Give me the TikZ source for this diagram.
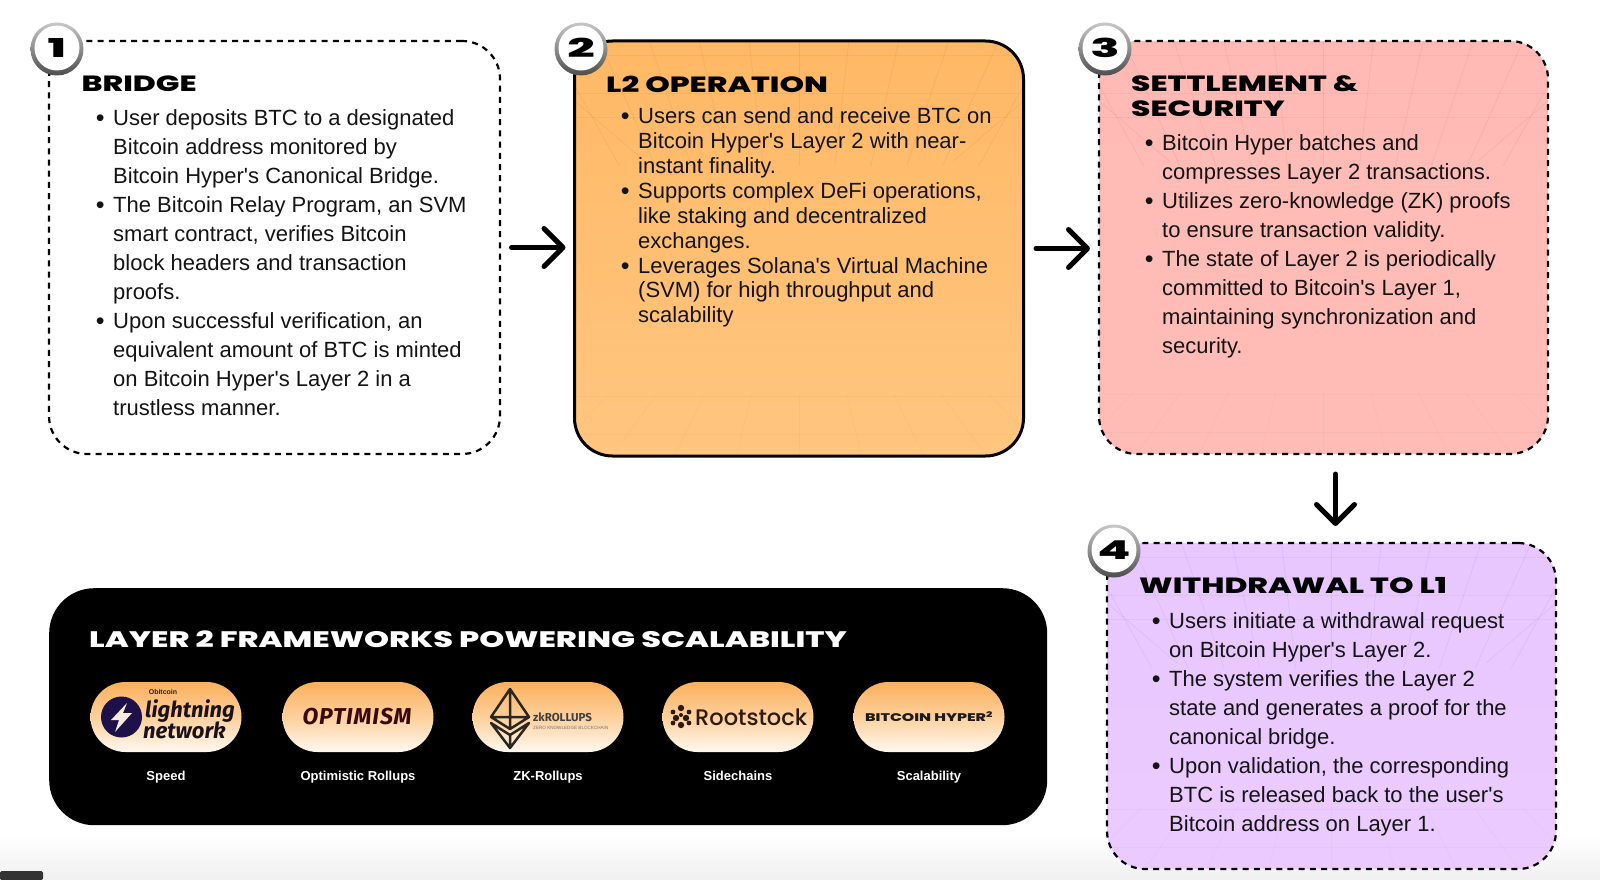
\documentclass[tikz,border=0pt]{standalone}
\usepackage{fontspec}
\usepackage{graphicx}
\usetikzlibrary{arrows.meta,shapes.misc,calc,shadings}
\setmainfont{Liberation Sans}
\newfontfamily\bodyf{Liberation Sans}
\newfontfamily\hdf[FakeStretch=1.42]{Poppins ExtraBold}
\newfontfamily\numf[FakeStretch=1.85]{Poppins ExtraBold}
\newfontfamily\fira{Fira Sans}
\newfontfamily\firasp[LetterSpace=4]{Fira Sans}
\newfontfamily\popf{Poppins Medium}
\definecolor{inkc}{HTML}{141414}
\newcommand\bl{\leavevmode\llap{\raisebox{-1.2pt}{\fontsize{25}{25}\selectfont •}\hspace{8.5pt}}}
\newcommand\gridlines[5]{%
 \begin{scope}
  \clip[rounded corners=38pt] (#1,#2) rectangle (#3,#4);
  \pgfmathsetmacro\cx{(#1+#3)/2}
  \pgfmathsetmacro\wd{(#3-#1)/9}
  \foreach \k in {-5,...,5}{
    \draw[#5] (\cx+\k*\wd,#2) -- (\cx+\k*\wd*0.72,#2+125);
    \draw[#5,opacity=.025] (\cx+\k*\wd*1.25,#4) -- (\cx+\k*\wd*0.95,#4-62);
  }
  \draw[#5] (#1,#2+60) -- (#1+70,#2+120);
  \draw[#5] (#3,#2+60) -- (#3-70,#2+120);
  \foreach \o in {14,52,76}{\draw[#5,opacity=.035] (#1,#2+\o) -- (#3,#2+\o);}
  \foreach \o in {60,22}{\draw[#5,opacity=.025] (#1,#4-\o) -- (#3,#4-\o);}
 \end{scope}}
\tikzset{
  x=1pt,y=-1pt,
  stepbox/.style={rectangle,rounded corners=38pt,inner sep=0pt,outer sep=0pt,line width=2.2pt,draw=black,anchor=north west},
  dashbox/.style={stepbox,dash pattern=on 6pt off 5.2pt},
  gridln/.style={line width=.7pt,draw=black,opacity=.05},
  bodytext/.style={inner sep=0pt,anchor=north west,align=left,text=inkc,font=\bodyf\fontsize{22}{29}\selectfont},
  title/.style={inner sep=0pt,anchor=west,align=left,text=black,font=\hdf\fontsize{22}{24.5}\selectfont},
  flow/.style={line width=5pt,line cap=round,-{Straight Barb[length=19pt,width=38pt,line width=5pt,round]}},
  pill/.style={rounded rectangle,minimum width=151pt,minimum height=70pt,inner sep=0pt,top color=pilltop,bottom color=pillbot,middle color=pillmid},
  plabel/.style={inner sep=0pt,anchor=base,text=white,font=\bfseries\fontsize{13}{13}\selectfont},
  badgeo/.style={circle,minimum size=53pt,inner sep=0pt,top color=black!22,bottom color=black!70,middle color=black!45},
  badgei/.style={circle,minimum size=45pt,inner sep=0pt,fill=white,text=black,font=\numf\fontsize{26}{26}\selectfont}
}
\definecolor{pilltop}{HTML}{FBB05C}
\definecolor{pillmid}{HTML}{FDD09C}
\definecolor{pillbot}{HTML}{FFF8F0}
\definecolor{FFB865}{HTML}{FFB865}
\definecolor{FFC680}{HTML}{FFC680}
\definecolor{FFBAB5}{HTML}{FFBAB5}
\definecolor{FFBCB7}{HTML}{FFBCB7}
\definecolor{E8C6FF}{HTML}{E8C6FF}
\definecolor{EBCBFF}{HTML}{EBCBFF}
\definecolor{1E1048}{HTML}{1E1048}
\definecolor{F6EBDD}{HTML}{F6EBDD}
\definecolor{1A1218}{HTML}{1A1218}
\definecolor{3A0A0A}{HTML}{3A0A0A}
\definecolor{2B2620}{HTML}{2B2620}
\definecolor{2C1A0F}{HTML}{2C1A0F}
\definecolor{1C1C1C}{HTML}{1C1C1C}
\begin{document}
\begin{tikzpicture}
\useasboundingbox (0,0) rectangle (1600,880);
\fill[white] (0,0) rectangle (1600,880);
\shade[top color=white,bottom color=black!6] (0,835) rectangle (1600,880);
\fill[black!80,rounded corners=1.5pt] (0,871) -- (43,871) -- (43,880) -- (0,880) -- cycle;

% box fills and grids
\shade[rounded corners=38pt,top color=FFB865,bottom color=FFC680] (574.5,41) rectangle (1023.5,456);
\gridlines{574.5}{41}{1023.5}{456}{gridln}
\shade[rounded corners=38pt,top color=FFBAB5,bottom color=FFBCB7] (1099,41) rectangle (1548,454);
\gridlines{1099}{41}{1548}{454}{gridln}
\shade[rounded corners=38pt,top color=E8C6FF,bottom color=EBCBFF] (1107,543) rectangle (1556,869);
\gridlines{1107}{543}{1556}{869}{gridln}

% box outlines
\node[dashbox,minimum width=451pt,minimum height=413pt] (b1) at (49,41) {};
\node[stepbox,line width=3pt,minimum width=449pt,minimum height=415pt] (b2) at (574.5,41) {};
\node[dashbox,minimum width=449pt,minimum height=413pt] (b3) at (1099,41) {};
\node[dashbox,minimum width=449pt,minimum height=326pt] (b4) at (1107,543) {};

% titles
\node[title] (t1) at (81.5,84) {BRIDGE};
\node[title] (t2) at (606,84) {L2 OPERATION};
\node[title] (t3) at (1131,96) {SETTLEMENT \&\\SECURITY};
\node[title] (t4) at (1139,586) {WITHDRAWAL TO L1};

% bodies
\node[bodytext] (x1) at (113,109) {\bl User deposits BTC to a designated\\Bitcoin address monitored by\\Bitcoin Hyper's Canonical Bridge.\\\bl The Bitcoin Relay Program, an SVM\\smart contract, verifies Bitcoin\\block headers and transaction\\proofs.\\\bl Upon successful verification, an\\equivalent amount of BTC is minted\\on Bitcoin Hyper's Layer 2 in a\\trustless manner.};
\node[bodytext,font=\bodyf\fontsize{22}{24.9}\selectfont] (x2) at (638,107.5) {\bl Users can send and receive BTC on\\Bitcoin Hyper's Layer 2 with near-\\instant finality.\\\bl Supports complex DeFi operations,\\like staking and decentralized\\exchanges.\\\bl Leverages Solana's Virtual Machine\\(SVM) for high throughput and\\scalability};
\node[bodytext] (x3) at (1162,134) {\bl Bitcoin Hyper batches and\\compresses Layer 2 transactions.\\\bl Utilizes zero-knowledge (ZK) proofs\\to ensure transaction validity.\\\bl The state of Layer 2 is periodically\\committed to Bitcoin's Layer 1,\\maintaining synchronization and\\security.};
\node[bodytext] (x4) at (1169,612) {\bl Users initiate a withdrawal request\\on Bitcoin Hyper's Layer 2.\\\bl The system verifies the Layer 2\\state and generates a proof for the\\canonical bridge.\\\bl Upon validation, the corresponding\\BTC is released back to the user's\\Bitcoin address on Layer 1.};

% badges
\foreach \n/\xx/\yy in {1/57/49,2/581/49,3/1105/49,4/1114/551}{
  \node[badgeo] (o\n) at (\xx,\yy) {};
  \node[badgei] (i\n) at (\xx,\yy-1) {\n};
}

% connectors
\draw[flow,shorten <=11.5pt,shorten >=9pt] (b1.east) -- (b1.east -| b2.west);
\draw[flow,shorten <=12.5pt,shorten >=9pt] (b2.east) -- (b2.east -| b3.west);
\draw[flow,shorten <=20pt,shorten >=17pt] ($(b3.south)+(12,0)$) -- ($(b4.north)+(4,0)$);

% black panel
\node[fill=black,rectangle,rounded corners=45pt,inner sep=0pt,anchor=north west,minimum width=998pt,minimum height=237pt] (panel) at (49,588) {};
\node[inner sep=0pt,anchor=west,text=white,font=\hdf\fontsize{22.4}{22.4}\selectfont] (ptitle) at (89,639) {LAYER 2 FRAMEWORKS POWERING SCALABILITY};

\node[pill] (p1) at (166,717) {};
\node[pill] (p2) at (358,717) {};
\node[pill] (p3) at (548,717) {};
\node[pill] (p4) at (738,717) {};
\node[pill] (p5) at (929,717) {};

\node[plabel] (l1) at (166,780) {Speed};
\node[plabel] (l2) at (358,780) {Optimistic Rollups};
\node[plabel] (l3) at (548,780) {ZK-Rollups};
\node[plabel] (l4) at (738,780) {Sidechains};
\node[plabel] (l5) at (929,780) {Scalability};

% lightning logo
\node[circle,fill=1E1048,minimum size=41pt,inner sep=0pt] (lgc) at (121.5,717) {};
\fill[F6EBDD] (127,703) -- (111,720) -- (119,720) -- (115,732) -- (132,713) -- (123,713) -- cycle;
\node[inner sep=0pt,text=black!85,font=\fontsize{7}{7}\selectfont\bfseries] (lgb) at (163,692) {Obitcoin};
\node[inner sep=0pt,anchor=west,text=1A1218,font=\fira\bfseries\itshape\fontsize{22}{22}\selectfont] (lgt) at (145,711) {lightning};
\node[inner sep=0pt,anchor=west,text=1A1218,font=\fira\bfseries\itshape\fontsize{22}{22}\selectfont] (lgn) at (143,730) {network};

% optimism logo
\node[inner sep=0pt,text=3A0A0A,font=\firasp\bfseries\itshape\fontsize{23}{23}\selectfont] (opt) at (357,717) {OPTIMISM};

% zk logo
\draw[line width=2.5pt,2B2620,line join=round] (510,689) -- (529,717) -- (510,729) -- (491,717) -- cycle (510,689) -- (510,729) (491,717) -- (529,717);
\draw[line width=2.5pt,2B2620,line join=round] (491,723) -- (510,748) -- (529,723) -- (510,735) -- cycle (510,735) -- (510,748);
\node[inner sep=0pt,anchor=west,text=black!75,font=\fira\bfseries\fontsize{11.5}{11.5}\selectfont] (zkt) at (533,717) {zkROLLUPS};
\node[inner sep=0pt,anchor=west,text=black!55,font=\fontsize{4.6}{5}\selectfont] (zks) at (533,728) {ZERO KNOWLEDGE BLOCKCHAIN};

% rootstock logo
\foreach \dx/\dy/\dr in {681/708/3.2,673/712/2.4,689/712/2.4,676/718/3.2,686/718/3.2,681/725/3.2,673/723/2.4,689/723/2.4,681/715/2}{
  \fill[2C1A0F] (\dx,\dy) circle (\dr pt);
}
\node[inner sep=0pt,anchor=west,text=2C1A0F,font=\popf\fontsize{22.5}{22.5}\selectfont] (rsk) at (695,717) {Rootstock};

% hyper logo
\node[inner sep=0pt,text=1C1C1C,font=\hdf\fontsize{11.1}{11.1}\selectfont] (hyp) at (929,717) {BITCOIN HYPER\textsuperscript{2}};
\end{tikzpicture}
\end{document}
